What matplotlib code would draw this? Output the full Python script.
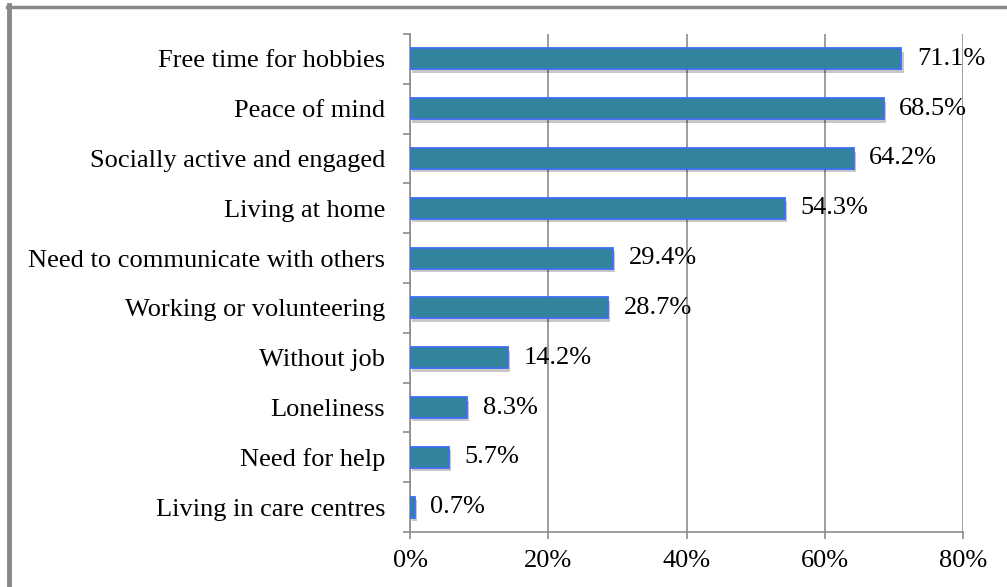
import matplotlib
matplotlib.use("Agg")
import matplotlib.pyplot as plt
import matplotlib.patheffects as pe
from matplotlib.lines import Line2D
import numpy as np

categories = [
    "Free time for hobbies",
    "Peace of mind",
    "Socially active and engaged",
    "Living at home",
    "Need to communicate with others",
    "Working or volunteering",
    "Without job",
    "Loneliness",
    "Need for help",
    "Living in care centres",
]
values = [71.1, 68.5, 64.2, 54.3, 29.4, 28.7, 14.2, 8.3, 5.7, 0.7]
xticks = [0, 20, 40, 60, 80]

plt.rcParams['font.family'] = ['Liberation Serif', 'DejaVu Serif']
LS = 19
GRID = '#8c8c8c'

fig = plt.figure(figsize=(10.07, 5.87), dpi=100)
ax = fig.add_axes([410/1007, 1-532/587, 553/1007, 498/587])

y = np.arange(len(categories))
bars = ax.barh(y, values, height=0.42, color='#31849b', edgecolor='#3f6cf5',
               linewidth=1.3, zorder=3)
for b in bars:
    b.set_path_effects([pe.SimplePatchShadow(offset=(1.5, -2.5), shadow_rgbFace='#000000',
                                             alpha=0.22), pe.Normal()])

for yi, v in zip(y, values):
    ax.annotate(f"{v:.1f}%", (v, yi), xytext=(11, 0), textcoords='offset points',
                va='center', ha='left', fontsize=LS, zorder=4)

ax.set_xlim(0, 80)
ax.set_ylim(len(categories) - 0.5, -0.5)
ax.set_xticks(xticks)
ax.set_xticklabels([f"{t}%" for t in xticks], fontsize=LS)
ax.set_yticks(y)
ax.set_yticklabels(categories, fontsize=LS)
ax.set_yticks(np.arange(-0.5, len(categories)), minor=True)

ax.tick_params(axis='y', which='major', length=0, pad=18)
ax.tick_params(axis='y', which='minor', length=5, color=GRID, width=1.2)
ax.tick_params(axis='x', which='major', length=5, color=GRID, width=1.2, pad=8)

ax.grid(axis='x', color=GRID, linewidth=1.2, zorder=0)
for s in ['top', 'right']:
    ax.spines[s].set_visible(False)
for s in ['left', 'bottom']:
    ax.spines[s].set_color(GRID)
    ax.spines[s].set_linewidth(1.2)

# outer frame: top and left edges only
fig.add_artist(Line2D([8.5/1007, 8.5/1007], [0, 1-5/587], color='#888888', linewidth=3.5))
fig.add_artist(Line2D([7/1007, 1], [1-6.5/587, 1-6.5/587], color='#888888', linewidth=2.5))

plt.savefig("out.png", dpi=100)
